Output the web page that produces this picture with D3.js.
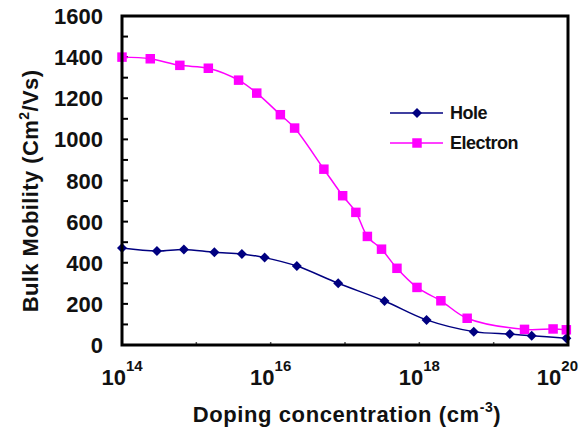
<!DOCTYPE html>
<html>
<head>
<meta charset="utf-8">
<script src="https://cdn.jsdelivr.net/npm/d3@7"></script>
<style>
  body { margin: 0; background: #fff; }
  text { font-family: "Liberation Sans", Arial, sans-serif; font-weight: bold; fill: #111; }
</style>
</head>
<body>
<svg width="580" height="432"></svg>
<script>
// concentraciones (cm^-3) y movilidades
const electronConc = [1e14, 2.4e14, 6e14, 1.45e15, 3.7e15, 6.5e15, 1.35e16, 2.1e16, 5.2e16, 9.3e16,
  1.4e17, 2e17, 3.1e17, 5e17, 9.3e17, 1.95e18, 4.4e18, 2.6e19, 6.3e19, 9.5e19];
const electronMob = [1400, 1392, 1360, 1346, 1288, 1225, 1120, 1055, 855, 726,
  645, 528, 466, 373, 280, 215, 130, 76, 78, 74];

const holeConc = [1e14, 2.95e14, 6.8e14, 1.75e15, 4.1e15, 8.3e15, 2.25e16, 8.1e16, 3.4e17,
  1.25e18, 5.4e18, 1.65e19, 3.25e19, 9.5e19];
const holeMob = [472, 457, 465, 451, 443, 425, 384, 300, 214, 122, 65, 53, 45, 33];

const xTickLabels = [14, 16, 18, 20]; // exponentes
const yTicks = [0, 200, 400, 600, 800, 1000, 1200, 1400, 1600];

const svg = d3.select("svg");
const m = { left: 122, right: 568, top: 16, bottom: 345 };

const x = d3.scaleLog().domain([1e14, 1e20]).range([m.left, m.right]);
const y = d3.scaleLinear().domain([0, 1600]).range([m.bottom, m.top]);

// ticks del eje Y (cada 100, hacia dentro)
svg.append("g")
  .selectAll("line")
  .data(d3.range(0, 1601, 100))
  .enter().append("line")
  .attr("x1", m.left).attr("x2", m.left + 6)
  .attr("y1", d => y(d)).attr("y2", d => y(d))
  .attr("stroke", "#000").attr("stroke-width", 2);

// ticks del eje X (cada década)
svg.append("g")
  .selectAll("line")
  .data(d3.range(14, 21).map(e => Math.pow(10, e)))
  .enter().append("line")
  .attr("x1", d => x(d)).attr("x2", d => x(d))
  .attr("y1", m.bottom).attr("y2", m.bottom - 3)
  .attr("stroke", "#555").attr("stroke-width", 1.5);

// etiquetas Y
svg.append("g")
  .selectAll("text")
  .data(yTicks)
  .enter().append("text")
  .attr("x", 103)
  .attr("y", d => y(d) + 8)
  .attr("text-anchor", "end")
  .style("font-size", "22px")
  .text(d => d);

// etiquetas X: 10^n
const xl = svg.append("g")
  .selectAll("text")
  .data(xTickLabels)
  .enter().append("text")
  .attr("y", 385)
  .style("font-size", "22px");
xl.append("tspan").text("10");
xl.append("tspan").attr("dy", -14).style("font-size", "15px").text(d => d);
xl.attr("x", function(d) {
  const w = this.getComputedTextLength();
  let cx = x(Math.pow(10, d)) - w / 2;
  return Math.min(cx, 578 - w);
});

// títulos de ejes
const xt = svg.append("text")
  .attr("x", 347).attr("y", 422)
  .attr("text-anchor", "middle")
  .style("font-size", "22px")
  .style("letter-spacing", "0.6px");
xt.append("tspan").text("Doping concentration (cm");
xt.append("tspan").attr("dy", -10).style("font-size", "14px").text("-3");
xt.append("tspan").attr("dy", 10).text(")");

const yt = svg.append("text")
  .attr("transform", "translate(38,191) rotate(-90)")
  .attr("text-anchor", "middle")
  .style("font-size", "22px")
  .style("letter-spacing", "0.4px");
yt.append("tspan").text("Bulk Mobility (Cm");
yt.append("tspan").attr("dy", -9).style("font-size", "14px").text("2");
yt.append("tspan").attr("dy", 9).text("/Vs)");

// series
const series = [
  { name: "Hole", conc: holeConc, mob: holeMob, color: "#000080", shape: "diamond" },
  { name: "Electron", conc: electronConc, mob: electronMob, color: "#ff00ff", shape: "square" }
];

const line = d3.line()
  .x(d => x(d[0]))
  .y(d => y(d[1]))
  .curve(d3.curveCatmullRom);

const square = d3.symbol(d3.symbolSquare, 90);
const diamond = d3.symbol(d3.symbolSquare, 50);

function marker(sel, s) {
  sel.append("path")
    .attr("d", s.shape === "square" ? square() : diamond())
    .attr("fill", s.color)
    .attr("transform", d => "translate(" + d[0] + "," + d[1] + ")" + (s.shape === "diamond" ? " rotate(45)" : ""));
}

series.forEach(s => {
  const pts = s.conc.map((c, i) => [c, s.mob[i]]);
  svg.append("path")
    .datum(pts)
    .attr("d", line)
    .attr("fill", "none")
    .attr("stroke", s.color)
    .attr("stroke-width", 1.5);
  const g = svg.append("g");
  g.selectAll("g")
    .data(pts)
    .enter().append("g")
    .each(function(d) { marker(d3.select(this).datum([x(d[0]), y(d[1])]), s); });
});

// marco
svg.append("rect")
  .attr("x", m.left).attr("y", m.top)
  .attr("width", m.right - m.left).attr("height", m.bottom - m.top)
  .attr("fill", "none")
  .attr("stroke", "#000").attr("stroke-width", 3);

// leyenda
const leg = svg.append("g");
series.forEach((s, i) => {
  const ly = 113 + i * 30;
  leg.append("line")
    .attr("x1", 390).attr("x2", 443)
    .attr("y1", ly).attr("y2", ly)
    .attr("stroke", s.color).attr("stroke-width", 1.5);
  marker(leg.append("g").datum([417, ly]), s);
  leg.append("text")
    .attr("x", 450).attr("y", ly + 6)
    .style("font-size", "18px")
    .style("letter-spacing", "-0.5px")
    .text(s.name);
});
</script>
</body>
</html>
